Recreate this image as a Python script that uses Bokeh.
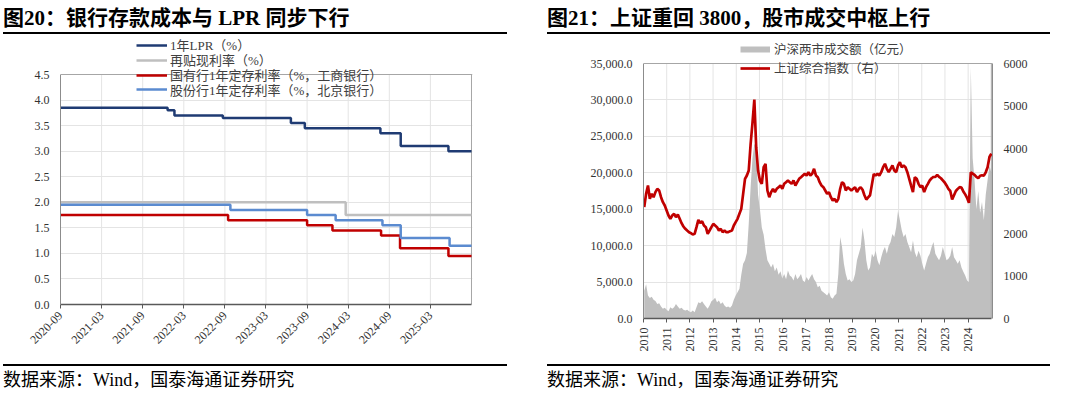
import math
import numpy as np
from bokeh.plotting import figure
from bokeh.models import (Range1d, LinearAxis, FixedTicker, NumeralTickFormatter,
                          Legend, LegendItem, Div, Span)
from bokeh.layouts import row, column
from bokeh.embed import file_html
from bokeh.resources import INLINE

SERIF = "'Liberation Serif', 'Noto Sans CJK SC', serif"
TXT = "#333333"
GRID = "#E4E4E4"
BORDER = "#A6A6A6"

# ---------------- Left chart data (step series) ----------------
lpr_dates = ["2020-09-01", "2021-12-20", "2022-01-20", "2022-08-22", "2023-06-20",
             "2023-08-21", "2024-07-22", "2024-10-21", "2025-05-20"]
lpr_vals = [3.85, 3.80, 3.70, 3.65, 3.55, 3.45, 3.35, 3.10, 3.00]
rediscount_dates = ["2020-09-01", "2024-02-20"]
rediscount_vals = [2.00, 1.75]
icbc_dates = ["2020-09-01", "2022-09-15", "2023-09-01", "2023-12-22", "2024-07-25",
              "2024-10-18", "2025-05-20"]
icbc_vals = [1.75, 1.65, 1.55, 1.45, 1.35, 1.10, 0.95]
bob_dates = ["2020-09-01", "2022-09-25", "2023-09-01", "2024-01-06", "2024-08-01",
             "2024-10-21", "2025-05-25"]
bob_vals = [1.95, 1.85, 1.75, 1.65, 1.55, 1.30, 1.15]
end_date = "2025-09-01"
left_tick_labels = ["2020-09", "2021-03", "2021-09", "2022-03", "2022-09",
                    "2023-03", "2023-09", "2024-03", "2024-09", "2025-03"]
left_y_ticks = [0.0, 0.5, 1.0, 1.5, 2.0, 2.5, 3.0, 3.5, 4.0, 4.5]
left_names = ["1年LPR（%）", "再贴现利率（%）", "国有行1年定存利率（%，工商银行）",
              "股份行1年定存利率（%，北京银行）"]

# ---------------- Right chart data (approx. monthly samples) ----------------
sse_index = [
    2620, 2933, 3130, 2816, 2933, 2855, 2973, 3050, 3012, 2855,
    2737, 2659, 2541, 2424, 2345, 2424, 2463, 2384, 2447, 2345,
    2243, 2165, 2110, 2070, 2031, 2008, 1976, 1992, 2149, 2322,
    2243, 2290, 2188, 2149, 1992, 2070, 2149, 2227, 2188, 2149,
    2070, 2110, 2031, 2070, 2031, 2031, 2055, 2070, 2188, 2267,
    2345, 2463, 2580, 2933, 3286, 3365, 3482, 4100, 4600, 5150,
    4031, 3482, 3247, 3169, 3561, 3639, 3012, 2855, 2973, 3051,
    2973, 3051, 3090, 3129, 3051, 3169, 3208, 3247, 3208, 3169,
    3247, 3129, 3208, 3286, 3325, 3365, 3404, 3365, 3443, 3365,
    3404, 3522, 3365, 3325, 3208, 3129, 3090, 3012, 2933, 2973,
    2855, 2776, 2816, 2737, 2816, 3051, 3208, 3169, 3012, 3090,
    3051, 3012, 3051, 3090, 2973, 3051, 3090, 3030, 2900, 2800,
    2850, 2900, 3150, 3400, 3365, 3404, 3365, 3443, 3561, 3639,
    3522, 3443, 3522, 3600, 3482, 3443, 3600, 3678, 3561, 3600,
    3561, 3443, 3286, 3129, 2973, 3325, 3286, 3169, 3090, 3129,
    2973, 3090, 3169, 3250, 3300, 3330, 3330, 3380, 3330, 3300,
    3250, 3200, 3130, 3050, 3000, 2800, 2900, 3000, 3050, 3090,
    3080, 2990, 2920, 2840, 2720, 3440, 3410, 3380, 3330, 3300,
    3360, 3370, 3360, 3440, 3560, 3800, 3880]
turnover = [
    3800, 4700, 3150, 2800, 3000, 2560, 2400, 2000, 2100, 1650,
    1330, 1460, 1190, 1000, 1550, 1330, 1550, 2000, 1650, 1330,
    1460, 1190, 1100, 1190, 1000, 870, 1100, 870, 1550, 2240,
    2100, 2380, 2000, 1650, 1330, 1780, 2380, 2560, 2840, 2240,
    2470, 2000, 2240, 1780, 1550, 1650, 1460, 1780, 2560, 3150,
    3600, 4070, 6000, 7500, 8000, 9000, 13000, 18000, 22000, 24000,
    23500, 17000, 15000, 12500, 11500, 9500, 8000, 7500, 7000, 7500,
    6500, 7000, 6000, 6500, 5500, 6100, 5400, 6600, 5900, 5700,
    5200, 6100, 5400, 5700, 6100, 5200, 5000, 5700, 5200, 5700,
    6100, 5400, 5000, 4300, 4500, 3800, 3600, 3400, 3150, 3600,
    2900, 2700, 3150, 3400, 6100, 11200, 9800, 7500, 6100, 5200,
    5400, 5000, 5200, 6100, 8000, 8900, 9800, 12500, 10700, 8000,
    6600, 7000, 8900, 8400, 9300, 8000, 7300, 8400, 9300, 9800,
    8900, 10000, 10500, 11600, 11200, 12500, 14800, 13500, 12100, 11200,
    11600, 10500, 9800, 9100, 10700, 9100, 8400, 9300, 8600, 7500,
    6600, 7500, 8400, 8900, 9800, 10500, 8900, 8400, 8000, 8600,
    9800, 8900, 8000, 8200, 8600, 9800, 8400, 8000, 7500, 8000,
    7000, 6400, 5900, 5200, 5000, 34500, 22000, 19000, 15000, 17500,
    14500, 16000, 13500, 17000, 19000, 21000, 20000]
axis_start_year = 2010.032   # position of first sample on the year axis
axis_step = 0.08047          # spacing of samples on the year axis
right_year_ticks = list(range(2010, 2025))
right_left_ticks = [0, 5000, 10000, 15000, 20000, 25000, 30000, 35000]
right_right_ticks = [0, 1000, 2000, 3000, 4000, 5000, 6000]
right_names = ["沪深两市成交额（亿元）", "上证综合指数（右）"]

titles = ["图20：银行存款成本与 LPR 同步下行", "图21：上证重回 3800，股市成交中枢上行"]
source_text = "数据来源：Wind，国泰海通证券研究"


def month_index(s):
    y, m, d = (int(v) for v in s.split("-"))
    return (y - 2020) * 12 + (m - 9) + (d - 1) / 30.0


def step_xy(dates, vals):
    xs = [month_index(d) for d in dates] + [month_index(end_date)]
    ys = list(vals) + [vals[-1]]
    return xs, ys


def style_axes(p, size):
    for ax in p.axis:
        ax.major_label_text_font = SERIF
        ax.major_label_text_font_size = size
        ax.major_label_text_color = TXT
        ax.axis_line_color = "#8C8C8C"
        ax.minor_tick_line_color = None
        ax.major_tick_line_color = None
    p.xgrid.visible = False
    p.ygrid.grid_line_color = GRID
    p.outline_line_color = None
    p.background_fill_color = "white"
    p.border_fill_color = "white"


def style_xaxis(p):
    p.xaxis.axis_line_color = "#595959"
    p.xaxis.axis_line_width = 1.3
    p.xaxis.major_tick_line_color = "#595959"
    p.xaxis.major_tick_out = 4
    p.xaxis.major_tick_in = 0


def one_item_legend(label, renderer, loc, glyph_w, standoff, size):
    return Legend(items=[LegendItem(label=label, renderers=[renderer])],
                  location=loc, orientation="vertical",
                  glyph_width=glyph_w, glyph_height=18, label_height=18,
                  label_standoff=standoff, spacing=0, padding=0, margin=0,
                  label_text_font=SERIF, label_text_font_size=size,
                  label_text_color="#404040",
                  background_fill_alpha=0, border_line_color=None)


# ---------------- Left figure ----------------
x_end = month_index(end_date)
y_top = left_y_ticks[-1]
# the frame extends above the top tick so that the legend can overlap the plot's top edge
p1 = figure(width=540, height=330, x_range=Range1d(0, x_end + 0.146),
            y_range=Range1d(0, y_top * 268 / 230),
            toolbar_location=None, output_backend="svg",
            min_border_left=60, min_border_right=68, min_border_top=2, min_border_bottom=60)
style_axes(p1, "12px")
style_xaxis(p1)
xt_vals = [6 * i for i in range(len(left_tick_labels))]
p1.xaxis.ticker = FixedTicker(ticks=xt_vals)
p1.xaxis.major_label_overrides = {v: lab for v, lab in zip(xt_vals, left_tick_labels)}
p1.xaxis.major_label_orientation = math.pi / 4
p1.xaxis.bounds = (0, x_end)
p1.yaxis.ticker = FixedTicker(ticks=left_y_ticks)
p1.ygrid.ticker = FixedTicker(ticks=left_y_ticks[1:-1])
p1.yaxis.formatter = NumeralTickFormatter(format="0.0")
p1.yaxis.bounds = (0, y_top)

# vertical grid lines and plot-area edges (bounded to the value range)
p1.segment(x0=xt_vals[1:], y0=0, x1=xt_vals[1:], y1=y_top, line_color=GRID, line_width=1)
p1.segment(x0=[x_end], y0=0, x1=[x_end], y1=y_top, line_color=BORDER, line_width=1)
p1.add_layout(Span(location=y_top, dimension="width", line_color=BORDER, line_width=1))

series = [(lpr_dates, lpr_vals, "#1F3B73"), (rediscount_dates, rediscount_vals, "#BFBFBF"),
          (icbc_dates, icbc_vals, "#C00000"), (bob_dates, bob_vals, "#5B8BD0")]
rends = []
for dts, vals, col in series:
    xs, ys = step_xy(dts, vals)
    rends.append(p1.step(xs, ys, mode="after", line_color=col, line_width=2.5))

left_leg_y = [250, 235, 220, 205.5]
for name, r, ly in zip(left_names, rends, left_leg_y):
    p1.add_layout(one_item_legend(name, r, (76, ly), 31, 3, "13px"), "center")

# ---------------- Right figure ----------------
xpos = axis_start_year + axis_step * np.arange(len(sse_index))
vmax = right_left_ticks[-1]
imax = right_right_ticks[-1]
p2 = figure(width=540, height=330, x_range=Range1d(2010, 2025.05),
            y_range=Range1d(0, vmax * 282 / 255),
            toolbar_location=None, output_backend="svg",
            min_border_left=103, min_border_right=88, min_border_top=2, min_border_bottom=46)
p2.extra_y_ranges = {"idx": Range1d(0, imax * 282 / 255)}
p2.yaxis.formatter = NumeralTickFormatter(format="0,0.0")
p2.yaxis.ticker = FixedTicker(ticks=right_left_ticks)
p2.yaxis.bounds = (0, vmax)
p2.ygrid.ticker = FixedTicker(ticks=right_left_ticks[1:-1])
rax = LinearAxis(y_range_name="idx", ticker=FixedTicker(ticks=right_right_ticks),
                 bounds=(0, imax))
p2.add_layout(rax, "right")
style_axes(p2, "12px")
style_xaxis(p2)
p2.xaxis.ticker = FixedTicker(ticks=right_year_ticks)
p2.xaxis.bounds = (2010, 2025)
p2.xaxis.major_label_orientation = math.pi / 2

p2.segment(x0=right_year_ticks[1:], y0=0, x1=right_year_ticks[1:], y1=vmax,
           line_color=GRID, line_width=1)
p2.varea(x=xpos, y1=0, y2=turnover, fill_color="#BFBFBF", fill_alpha=1.0)
p2.segment(x0=[2025], y0=0, x1=[2025], y1=vmax, line_color=BORDER, line_width=1)
p2.add_layout(Span(location=vmax, dimension="width", line_color=BORDER, line_width=1))
sse_r = p2.line(x=xpos, y=sse_index, y_range_name="idx", line_color="#C00000", line_width=2.7)
# legend key for the turnover area (a thick grey bar); it draws nothing in the plot
vol_key = p2.line(x=[xpos[0]], y=[float("nan")], line_color="#BFBFBF", line_width=6)

p2.add_layout(one_item_legend(right_names[0], vol_key, (97, 259.7), 30, 4, "12.5px"), "center")
p2.add_layout(one_item_legend(right_names[1], sse_r, (97, 240.7), 30, 4, "12.5px"), "center")


# ---------------- Titles / sources ----------------
def title_div(text, left, width):
    return Div(text=text, width=width, height=34, margin=(0, 0, 0, left),
               styles={"font-family": SERIF, "font-size": "21px", "font-weight": "bold",
                       "color": "#000", "border-bottom": "2px solid #000",
                       "box-sizing": "border-box", "padding-top": "7px",
                       "line-height": "22px", "white-space": "nowrap", "overflow": "hidden"})


def source_div(left, width):
    return Div(text=source_text, width=width, height=31, margin=(0, 0, 0, left),
               styles={"font-family": SERIF, "font-size": "18px", "color": "#000",
                       "border-top": "2px solid #000", "box-sizing": "border-box",
                       "padding-top": "3px", "line-height": "22px",
                       "white-space": "nowrap", "overflow": "hidden"})


left_col = column(title_div(titles[0], 3, 504), p1, source_div(3, 504), spacing=0)
right_col = column(title_div(titles[1], 7, 503), p2, source_div(7, 503), spacing=0)
layout = row(left_col, right_col, spacing=0)

open("out.html", "w").write(file_html(layout, INLINE))
